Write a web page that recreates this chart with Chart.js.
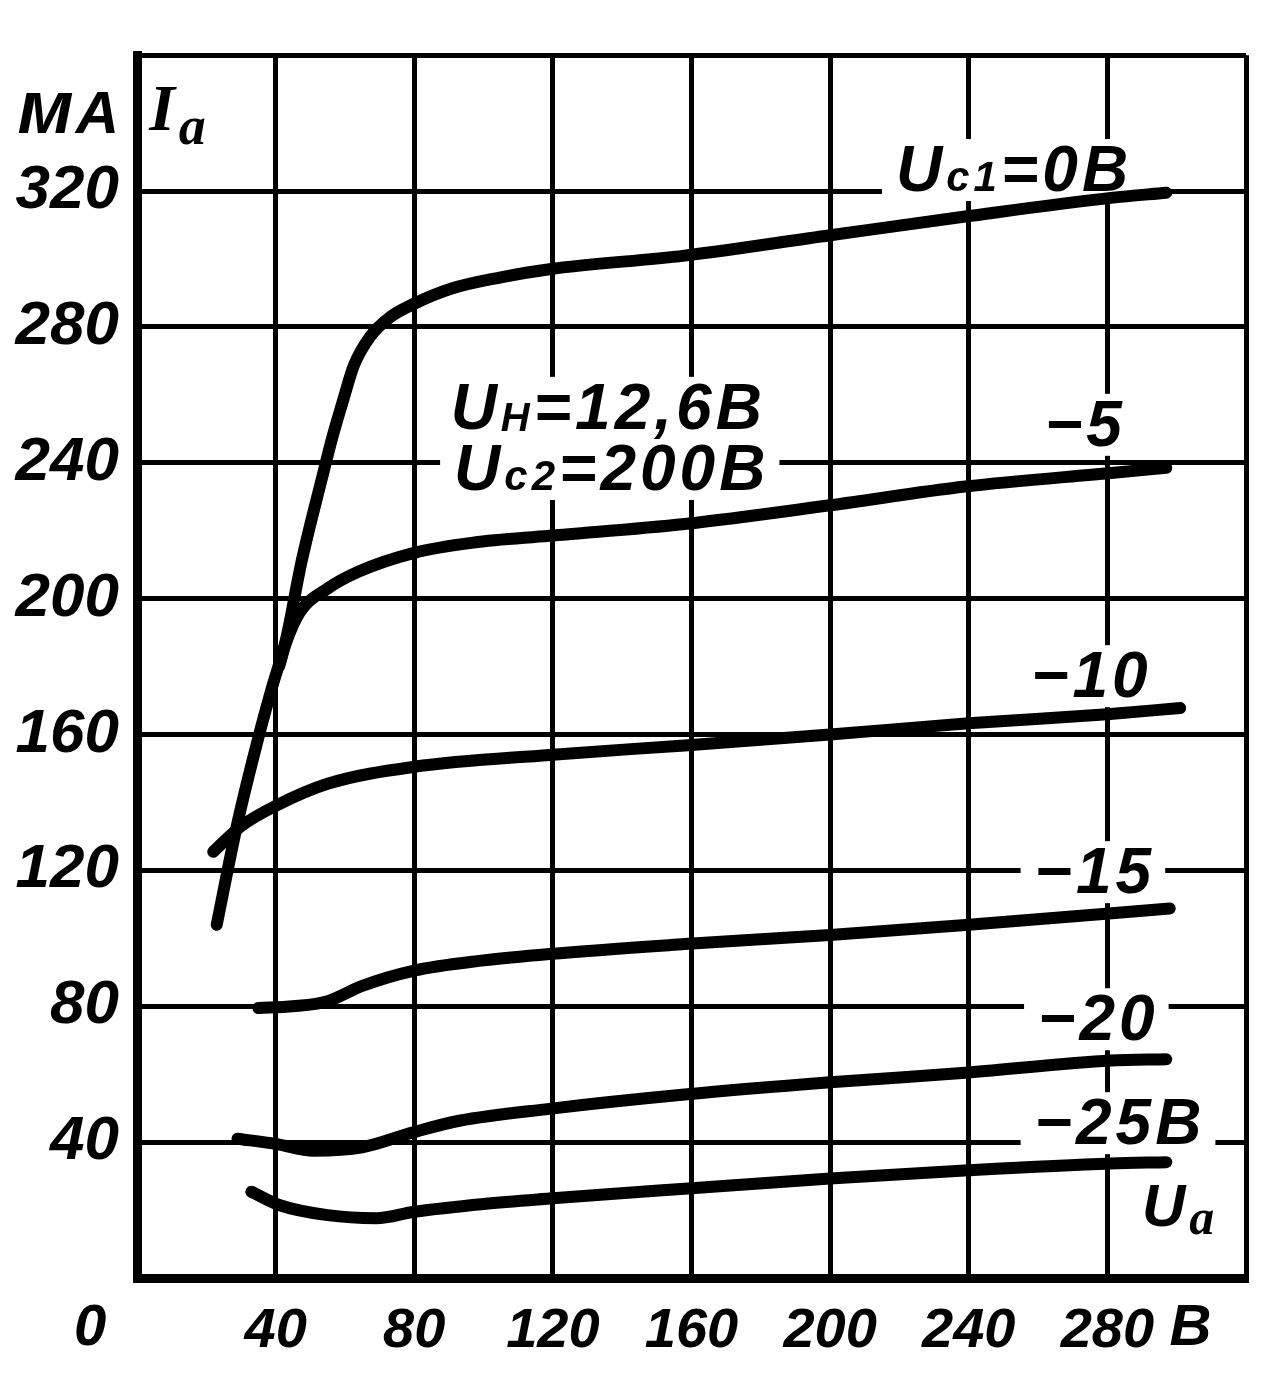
<!DOCTYPE html>
<html><head><meta charset="utf-8">
<script src="https://cdn.jsdelivr.net/npm/chart.js@4.4.1/dist/chart.umd.min.js"></script>
<style>html,body{margin:0;padding:0;background:#fff}#wrap{width:1285px;height:1375px;position:relative}</style>
</head><body><div id="wrap"><canvas id="c" width="1285" height="1375"></canvas></div>
<script>
// ---- data (anode voltage Ua, V  /  anode current Ia, mA) ----
const xTickValues = [0, 40, 80, 120, 160, 200, 240, 280, 320];
const xTickLabels = ['', '40', '80', '120', '160', '200', '240', '280', ''];
const yTickValues = [0, 40, 80, 120, 160, 200, 240, 280, 320, 360];
const yTickLabels = ['', '40', '80', '120', '160', '200', '240', '280', '320', ''];

const ua_g0   = [23, 29, 35, 39, 43, 47.5, 53.5, 56.5, 59.5, 62.6, 67.3, 72.9, 79.5, 90.8, 105, 119, 158, 200, 239, 281, 297];
const ia_g0   = [104, 134, 159, 174, 188, 211, 236, 248, 258.5, 268.7, 277.2, 282.8, 286.6, 291.3, 294.6, 297, 301, 307, 312.5, 318, 319.5];
const ua_g5   = [41, 43, 47, 55, 64, 80, 97, 119, 158, 200, 239, 281, 297];
const ia_g5   = [180, 187, 196, 203, 208, 213.5, 216.5, 218.5, 222, 227.5, 233, 237, 238.5];
const ua_g10  = [22, 30, 40, 55, 80, 119, 158, 200, 240, 280, 301];
const ia_g10  = [125.5, 133, 139, 145.5, 150.5, 154, 156.8, 160, 163.3, 166, 167.8];
const ua_g15  = [35, 45, 55, 65, 80, 100, 119, 158, 200, 240, 298];
const ia_g15  = [79.5, 80, 81.5, 86, 90.5, 93.5, 95.4, 98.3, 101, 104, 108.8];
const ua_g20  = [29, 40, 51, 65, 80, 93, 119, 158, 200, 240, 281, 297];
const ia_g20  = [41, 39.5, 37.5, 38.5, 43, 46.3, 49.8, 54, 57.6, 60.5, 64, 64.4];
const ua_g25  = [33, 41, 55, 69, 80, 100, 119, 158, 200, 240, 281, 297];
const ia_g25  = [25.4, 21.5, 18.5, 17.6, 19.5, 21.8, 23.4, 26.3, 29.3, 31.7, 33.7, 34.1];

const seriesNames = ['Uс1=0В', '−5', '−10', '−15', '−20', '−25В'];
const seriesX = [ua_g0, ua_g5, ua_g10, ua_g15, ua_g20, ua_g25];
const seriesY = [ia_g0, ia_g5, ia_g10, ia_g15, ia_g20, ia_g25];

// ---- styling ----
const FONT = '"Liberation Sans", "DejaVu Sans", sans-serif';
const SERIF = '"Liberation Serif", "DejaVu Serif", serif';

// annotation texts: anchor in data units (left, baseline); parts = [text, size, dy, family]
const notes = [
  {x: 219, y: 320, parts: [['U', 64, 0], ['с1', 42, 0], ['=0В', 64, 0]]},
  {x: 90.5, y: 250, parts: [['U', 64, 0], ['Н', 40, 2], ['=12,6В', 64, 0]]},
  {x: 91.5, y: 232, parts: [['U', 64, 0], ['с2', 42, 0], ['=200В', 64, 0]]},
  {x: 262, y: 245, parts: [['−5', 64, 0]]},
  {x: 258, y: 171, parts: [['−10', 64, 0]]},
  {x: 259, y: 113.3, parts: [['−15', 64, 0]]},
  {x: 260, y: 70, parts: [['−20', 64, 0]]},
  {x: 259, y: 39.4, parts: [['−25В', 64, 0]]},
  {x: 290, y: 15.4, parts: [['U', 60, 0], ['а', 50, 8, SERIF]], nobox: true},
  {x: 3.5, y: 338, parts: [['I', 66, 0, SERIF], ['а', 54, 14, SERIF]], nobox: true},
];
const SPACING = 4;

function setFont(ctx, size, fam) { ctx.font = 'italic bold ' + size + 'px ' + (fam || FONT); }
function measureParts(ctx, parts) {
  let w = 0;
  for (const [t, s, dy, f] of parts) { setFont(ctx, s, f); for (const ch of t) w += ctx.measureText(ch).width + SPACING; }
  return w;
}
function drawParts(ctx, parts, x, y) {
  let cx = x;
  for (const [t, s, dy, f] of parts) {
    setFont(ctx, s, f);
    for (const ch of t) { ctx.fillText(ch, cx, y + dy); cx += ctx.measureText(ch).width + SPACING; }
  }
}

const textPlugin = {
  id: 'texts',
  beforeDatasetsDraw(chart) {
    const {ctx, scales: {x, y}} = chart;
    ctx.save();
    ctx.fillStyle = '#fff';
    for (const n of notes) {
      if (n.nobox) continue;
      const px = x.getPixelForValue(n.x), py = y.getPixelForValue(n.y);
      const w = measureParts(ctx, n.parts);
      ctx.fillRect(px - 14, py - 52, w + 24, 62);
    }
    ctx.restore();
  },
  afterDatasetsDraw(chart) {
    const {ctx, scales: {x, y}} = chart;
    ctx.save();
    ctx.fillStyle = '#000';
    ctx.textBaseline = 'alphabetic';
    ctx.textAlign = 'left';
    for (const n of notes) {
      drawParts(ctx, n.parts, x.getPixelForValue(n.x), y.getPixelForValue(n.y));
    }
    // unit "мА" above the y tick labels
    const by = y.getPixelForValue(affixY);
    setFont(ctx, 60);
    const wA = ctx.measureText('А').width;
    ctx.textAlign = 'right';
    ctx.fillText('А', chart.chartArea.left - 18, by);
    setFont(ctx, 76);
    ctx.fillText('м', chart.chartArea.left - 20 - wA, by);
    // origin "0" and unit "В" on the x label row
    ctx.textAlign = 'center';
    ctx.textBaseline = 'top';
    setFont(ctx, 58);
    ctx.fillText('0', x.getPixelForValue(-13.5), chart.chartArea.bottom + 22);
    ctx.fillText('В', x.getPixelForValue(304), chart.chartArea.bottom + 22);
    ctx.restore();
  }
};
const affixY = 337;

const datasets = seriesNames.map((name, i) => ({
  label: name,
  data: seriesX[i].map((v, j) => ({x: v, y: seriesY[i][j]})),
  showLine: true,
  borderColor: '#000',
  borderWidth: 12,
  borderCapStyle: 'round',
  borderJoinStyle: 'round',
  pointRadius: 0,
  fill: false,
  tension: 0.4,
  cubicInterpolationMode: 'monotone'
}));

new Chart(document.getElementById('c'), {
  type: 'scatter',
  data: {datasets},
  plugins: [textPlugin],
  options: {
    responsive: false,
    devicePixelRatio: 1,
    animation: false,
    layout: {padding: {left: 0, right: 39, top: 38, bottom: 0}},
    plugins: {legend: {display: false}, tooltip: {enabled: false}},
    scales: {
      x: {
        type: 'linear', min: 0, max: 320,
        afterBuildTicks(s) { s.ticks = xTickValues.map(v => ({value: v})); },
        afterFit(s) { s.height = 97; },
        ticks: {
          callback: (v) => xTickLabels[xTickValues.indexOf(v)] ?? '',
          color: '#000', padding: 20, maxRotation: 0, autoSkip: false,
          font: {family: FONT, size: 56, style: 'italic', weight: 'bold'}
        },
        grid: {color: '#000', lineWidth: 5, drawTicks: false},
        border: {color: '#000', width: 9}
      },
      y: {
        type: 'linear', min: 0, max: 360,
        afterBuildTicks(s) { s.ticks = yTickValues.map(v => ({value: v})); },
        afterFit(s) { s.width = 137; },
        ticks: {
          callback: (v) => yTickLabels[yTickValues.indexOf(v)] ?? '',
          color: '#000', padding: 18, autoSkip: false,
          font: {family: FONT, size: 62, style: 'italic', weight: 'bold'}
        },
        grid: {color: '#000', lineWidth: 5, drawTicks: false},
        border: {color: '#000', width: 9}
      }
    }
  }
});
</script></body></html>
